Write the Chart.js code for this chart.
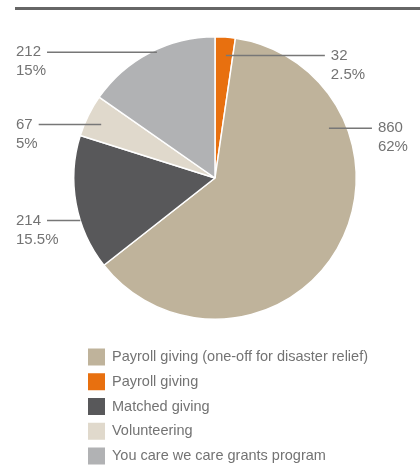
<!DOCTYPE html>
<html lang="en">
<head>
<meta charset="UTF-8">
<title>Giving breakdown</title>
<script src="https://cdn.jsdelivr.net/npm/chart.js"></script>
<style>
  body { margin: 0; background: #fff; }
  #wrap { position: relative; width: 420px; height: 468px; }
  #rule { position: absolute; left: 15px; right: 0; top: 7px; height: 3px; background: #666; }
  canvas { position: absolute; left: 0; top: 0; }
</style>
</head>
<body>
<div id="wrap">
  <div id="rule"></div>
  <canvas id="pie" width="420" height="468"></canvas>
</div>
<script>
  // data, in clockwise order from 12 o'clock
  const categories = ['Payroll giving', 'Payroll giving (one-off for disaster relief)', 'Matched giving', 'Volunteering', 'You care we care grants program'];
  const amounts = [32, 860, 214, 67, 212];
  const shares = ['2.5%', '62%', '15.5%', '5%', '15%'];
  const legendOrder = [1, 0, 2, 3, 4];
  const colours = ['#e8700f', '#bfb39b', '#58585a', '#e0d9cc', '#b1b2b4'];

  // where each callout touches its slice (fraction along slice, fraction of radius)
  const callouts = [
    { t: 0.61, r: 0.87, side: 'right', len: 99 },
    { t: 0.26, r: 0.88, side: 'right', len: 43 },
    { t: 0.37, r: 1.0, side: 'left' },
    { t: 0.44, r: 0.89, side: 'left' },
    { t: 0.55, r: 0.98, side: 'left' }
  ];

  const FONT = '15px "Liberation Sans", Arial, sans-serif';
  const LEGEND_FONT = '14.5px "Liberation Sans", Arial, sans-serif';
  const TEXT = '#737373';

  const calloutPlugin = {
    id: 'callouts',
    afterDatasetsDraw(chart) {
      const ctx = chart.ctx;
      const arcs = chart.getDatasetMeta(0).data;
      ctx.save();
      ctx.font = FONT;
      ctx.textBaseline = 'middle';
      ctx.textAlign = 'left';
      arcs.forEach((arc, i) => {
        const c = callouts[i];
        const a = arc.startAngle + (arc.endAngle - arc.startAngle) * c.t;
        const px = arc.x + Math.cos(a) * arc.outerRadius * c.r;
        const py = arc.y + Math.sin(a) * arc.outerRadius * c.r;
        const num = String(amounts[i]);
        let x0, x1, tx;
        if (c.side === 'left') {
          tx = 16;
          x0 = tx + ctx.measureText(num).width + 6;
          x1 = px;
        } else {
          x0 = px;
          x1 = px + c.len;
          tx = x1 + 6;
        }
        ctx.strokeStyle = '#777';
        ctx.lineWidth = 1.5;
        ctx.beginPath();
        ctx.moveTo(x0, py);
        ctx.lineTo(x1, py);
        ctx.stroke();
        ctx.fillStyle = TEXT;
        ctx.fillText(num, tx, py);
        ctx.fillText(shares[i], tx, py + 19);
      });
      ctx.restore();
    }
  };

  // legend is a list below the pie, not in data order
  const legendPlugin = {
    id: 'listLegend',
    afterDraw(chart) {
      const ctx = chart.ctx;
      const top = chart.chartArea.bottom + 37;
      ctx.save();
      ctx.font = LEGEND_FONT;
      ctx.textBaseline = 'middle';
      ctx.textAlign = 'left';
      legendOrder.forEach((idx, row) => {
        const y = top + row * 24.75;
        ctx.fillStyle = colours[idx];
        ctx.fillRect(88, y - 8.5, 17, 17);
        ctx.fillStyle = TEXT;
        ctx.fillText(categories[idx], 112, y);
      });
      ctx.restore();
    }
  };

  new Chart(document.getElementById('pie'), {
    type: 'pie',
    data: {
      labels: categories,
      datasets: [{
        data: amounts,
        backgroundColor: colours,
        borderColor: '#fff',
        borderWidth: 1.5
      }]
    },
    options: {
      responsive: false,
      animation: false,
      events: [],
      layout: { padding: { top: 36, bottom: 148, left: 73, right: 63 } },
      plugins: {
        legend: { display: false },
        tooltip: { enabled: false }
      }
    },
    plugins: [calloutPlugin, legendPlugin]
  });
</script>
</body>
</html>
